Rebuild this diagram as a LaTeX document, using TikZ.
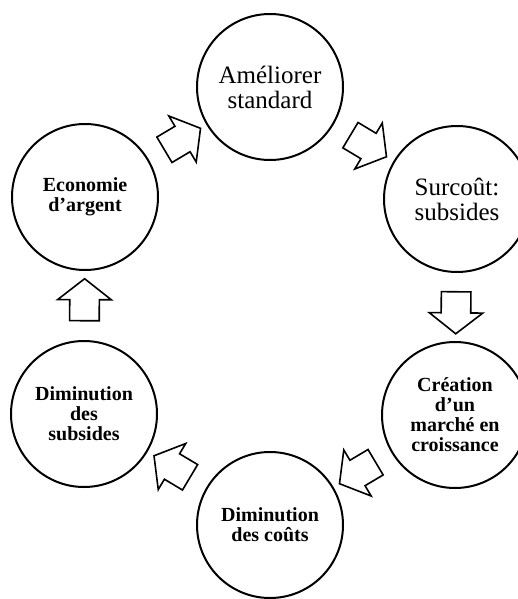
\documentclass[tikz,border=0pt]{standalone}
\usepackage{fontspec}
\setmainfont{Liberation Serif}
\usetikzlibrary{shapes.arrows}

\tikzset{
  etape/.style={circle, draw, line width=1pt, minimum size=73pt, inner sep=0pt,
    align=center, font=\fontsize{12.5}{12.5}\selectfont},
  etapegras/.style={etape, font=\fontsize{10}{10}\selectfont\bfseries},
  fleche/.style={single arrow, draw, line width=0.8pt, inner xsep=0pt, inner ysep=7pt,
    minimum height=21pt, single arrow head extend=6pt,
    single arrow tip angle=104, sloped, allow upside down}
}

\begin{document}
\begin{tikzpicture}[x=0.5pt, y=-0.5pt]
  \useasboundingbox (0,0) rectangle (518,599);
  \node[etape] (ameliorer) at (270,87) {Améliorer\\standard};
  \node[etape] (surcout) at (457,199) {Surcoût:\\subsides};
  \node[etapegras] (creation) at (455,415) {Création\\d’un\\marché en\\croissance};
  \node[etapegras] (couts) at (270,525) {Diminution\\des coûts};
  \node[etapegras] (subsides) at (84,414) {Diminution\\des\\subsides};
  \node[etapegras] (economie) at (85,197) {Economie\\d’argent};
  \path (economie) -- node[fleche] (f1) {} (ameliorer);
  \path (ameliorer) -- node[fleche] (f2) {} (surcout);
  \path (surcout) -- node[fleche] (f3) {} (creation);
  \path (creation) -- node[fleche] (f4) {} (couts);
  \path (couts) -- node[fleche] (f5) {} (subsides);
  \path (subsides) -- node[fleche] (f6) {} (economie);
\end{tikzpicture}
\end{document}
